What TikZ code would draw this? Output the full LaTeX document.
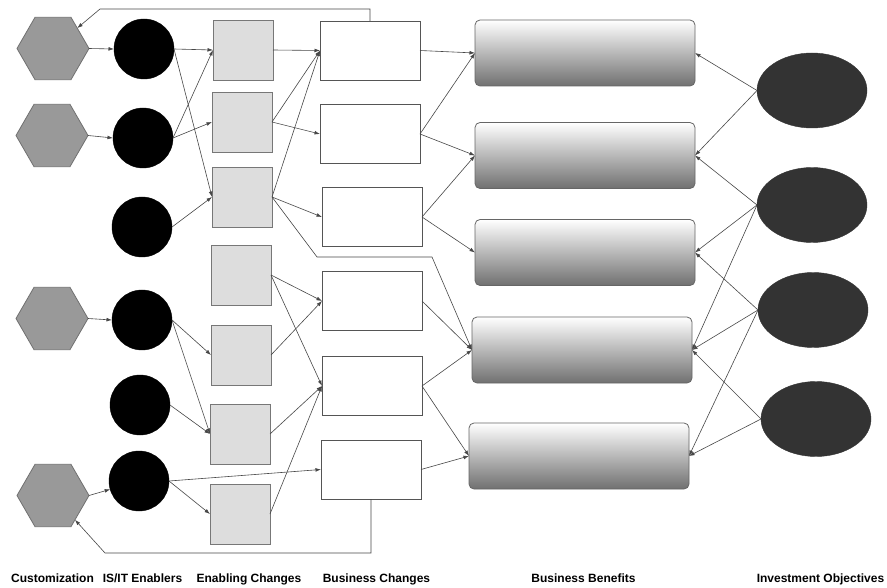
\documentclass[tikz,border=0pt]{standalone}
\usepackage{fontspec}
\setmainfont{Liberation Sans}
\usetikzlibrary{shapes.geometric,arrows.meta}
\definecolor{hexfill}{HTML}{999999}
\definecolor{hexline}{HTML}{707070}
\definecolor{ecfill}{HTML}{DDDDDD}
\definecolor{ecline}{HTML}{777777}
\definecolor{bcline}{HTML}{555555}
\definecolor{objfill}{HTML}{333333}
\definecolor{connc}{HTML}{474747}
\begin{document}
\begin{tikzpicture}[x=1pt,y=-1pt,
 hexa/.style={regular polygon, regular polygon sides=6, minimum size=72pt, inner sep=0pt, outer sep=0pt, fill=hexfill, draw=hexline, line width=0.8pt},
 enabler/.style={circle, fill=black, draw=black, minimum size=60pt, inner sep=0pt, outer sep=0pt},
 enchange/.style={rectangle, fill=ecfill, draw=ecline, line width=0.9pt, minimum width=60pt, minimum height=60pt, inner sep=0pt, outer sep=0pt},
 buschange/.style={rectangle, fill=white, draw=bcline, line width=0.8pt, minimum width=100pt, minimum height=59pt, inner sep=0pt, outer sep=0pt},
 benefit/.style={rectangle, rounded corners=5pt, top color=white, middle color=black!20, bottom color=black!56, draw=black!60, line width=0.8pt, minimum width=220pt, minimum height=66pt, inner sep=0pt, outer sep=0pt},
 objective/.style={ellipse, fill=objfill, draw=objfill, minimum width=110pt, minimum height=75pt, inner sep=0pt, outer sep=0pt},
 conn/.style={draw=connc, line width=0.6pt, -{Latex[length=5.5pt,width=3.8pt]}},
 collabel/.style={font=\bfseries\fontsize{12}{14}\selectfont, anchor=base, inner sep=0pt}
]
\useasboundingbox[fill=white] (0,0) rectangle (887,588);

% Customization
\node[hexa] (h1) at (53,48.5) {};
\node[hexa] (h2) at (52,135.5) {};
\node[hexa] (h3) at (52,318.5) {};
\node[hexa] (h4) at (53,495.5) {};

% IS/IT Enablers
\node[enabler] (c1) at (144,49) {};
\node[enabler] (c2) at (143,138) {};
\node[enabler] (c3) at (142,227) {};
\node[enabler] (c4) at (142,320) {};
\node[enabler] (c5) at (140,405) {};
\node[enabler] (c6) at (139,481) {};

% Enabling Changes
\node[enchange] (e1) at (243,50) {};
\node[enchange] (e2) at (242,122) {};
\node[enchange] (e3) at (242,197) {};
\node[enchange] (e4) at (241,275) {};
\node[enchange] (e5) at (241,355) {};
\node[enchange] (e6) at (240,434) {};
\node[enchange] (e7) at (240,514) {};

% Business Changes
\node[buschange] (b1) at (370,50.5) {};
\node[buschange] (b2) at (370,134) {};
\node[buschange] (b3) at (372,217) {};
\node[buschange] (b4) at (372,301) {};
\node[buschange] (b5) at (372,386) {};
\node[buschange] (b6) at (371,469.5) {};

% Business Benefits
\node[benefit] (bb1) at (585,53) {};
\node[benefit] (bb2) at (585,155.5) {};
\node[benefit] (bb3) at (585,252.5) {};
\node[benefit] (bb4) at (582,350) {};
\node[benefit] (bb5) at (579,456) {};

% Investment Objectives
\node[objective] (o1) at (812,90.5) {};
\node[objective] (o2) at (812,205) {};
\node[objective] (o3) at (813,310) {};
\node[objective] (o4) at (816,419) {};

% helper coordinates
\coordinate (ftop) at (100,9);
\coordinate (fbot) at (105,553);
\coordinate (bend1) at (317,257);
\coordinate (bend2) at (432,257);

% Customization -> Enablers
\draw[conn] (h1.east) -- (c1.west);
\draw[conn] (h2.east) -- (c2.west);
\draw[conn] (h3.east) -- (c4.west);
\draw[conn] (h4.east) -- (c6);

% Enablers -> Enabling Changes
\draw[conn] (c1.east) -- (e1.west);
\draw[conn] (c1.east) -- (e3.west);
\draw[conn] (c2.east) -- (e1.west);
\draw[conn] (c2.east) -- (e2.west);
\draw[conn] (c3.east) -- (e3.west);
\draw[conn] (c4.east) -- (e5.west);
\draw[conn] (c4.east) -- (e6.west);
\draw[conn] (c5.east) -- (e6.west);
\draw[conn] (c6.east) -- (e7.west);
\draw[conn] (c6.east) -- (b6.west);

% Enabling Changes -> Business Changes
\draw[conn] (e1.east) -- (b1.west);
\draw[conn] (e2.east) -- (b1.west);
\draw[conn] (e2.east) -- (b2.west);
\draw[conn] (e3.east) -- (b1.west);
\draw[conn] (e3.east) -- (b3.west);
\draw[conn] (e3.east) -- (bend1) -- (bend2) -- (bb4.west);
\draw[conn] (e4.east) -- (b4.west);
\draw[conn] (e4.east) -- (b5.west);
\draw[conn] (e5.east) -- (b4.west);
\draw[conn] (e6.east) -- (b5.west);
\draw[conn] (e7.east) -- (b5.west);

% Business Changes -> Benefits
\draw[conn] (b1.east) -- (bb1.west);
\draw[conn] (b2.east) -- (bb1.west);
\draw[conn] (b2.east) -- (bb2.west);
\draw[conn] (b3.east) -- (bb2.west);
\draw[conn] (b3.east) -- (bb3.west);
\draw[conn] (b4.east) -- (bb4.west);
\draw[conn] (b5.east) -- (bb4.west);
\draw[conn] (b5.east) -- (bb5.west);
\draw[conn] (b6.east) -- (bb5.west);

% Objectives -> Benefits
\draw[conn] (o1.west) -- (bb1.east);
\draw[conn] (o1.west) -- (bb2.east);
\draw[conn] (o2.west) -- (bb2.east);
\draw[conn] (o2.west) -- (bb3.east);
\draw[conn] (o2.west) -- (bb4.east);
\draw[conn] (o3.west) -- (bb3.east);
\draw[conn] (o3.west) -- (bb4.east);
\draw[conn] (o3.west) -- (bb5.east);
\draw[conn] (o4.west) -- (bb4.east);
\draw[conn] (o4.west) -- (bb5.east);

% Feedback loops
\draw[conn] (b1.north) |- (ftop) -- (h1);
\draw[conn] (b6.south) |- (fbot) -- (h4);

% Column labels
\node[collabel] (l1) at (52.5,582) {Customization};
\node[collabel] (l2) at (142.5,582) {IS/IT Enablers};
\node[collabel] (l3) at (249,582) {Enabling Changes};
\node[collabel] (l4) at (376.5,582) {Business Changes};
\node[collabel] (l5) at (583.5,582) {Business Benefits};
\node[collabel] (l6) at (820.5,582) {Investment Objectives};
\end{tikzpicture}
\end{document}
